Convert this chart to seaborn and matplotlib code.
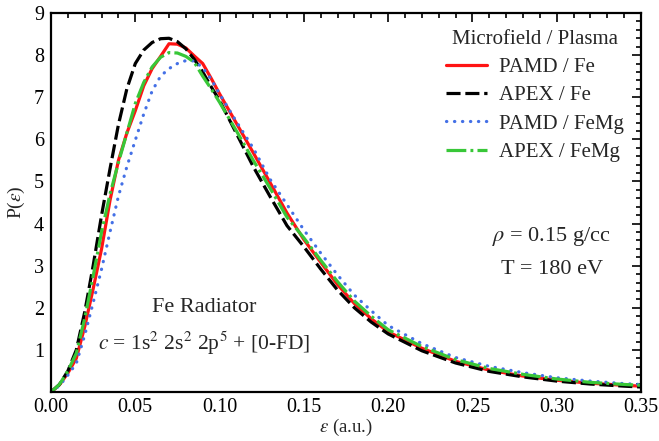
import numpy as np
import pandas as pd
import seaborn as sns
import matplotlib.pyplot as plt
from matplotlib.ticker import MultipleLocator, FormatStrFormatter

# field values (a.u.)
eps = [0.0, 0.005, 0.01, 0.015, 0.02, 0.025, 0.03, 0.035, 0.04, 0.045,
       0.05, 0.055, 0.06, 0.065, 0.07, 0.075, 0.08, 0.085, 0.09, 0.095,
       0.10, 0.11, 0.12, 0.13, 0.14, 0.15, 0.16, 0.17, 0.18, 0.19,
       0.20, 0.22, 0.24, 0.26, 0.28, 0.30, 0.32, 0.34, 0.35]

# P(eps)
pamd_fe = [0.0, 0.17, 0.45, 0.8, 1.55, 2.45, 3.4, 4.55, 5.5, 6.15,
           6.68, 7.27, 7.68, 7.97, 8.27, 8.26, 8.17, 7.98, 7.8, 7.45,
           7.08, 6.38, 5.68, 4.97, 4.25, 3.62, 3.08, 2.55, 2.1, 1.74,
           1.43, 1.04, 0.73, 0.52, 0.38, 0.28, 0.21, 0.16, 0.14]
apex_fe = [0.0, 0.18, 0.5, 1.0, 1.9, 3.0, 4.2, 5.3, 6.35, 7.2,
           7.8, 8.12, 8.3, 8.39, 8.4, 8.32, 8.15, 7.9, 7.6, 7.25,
           6.92, 6.14, 5.35, 4.64, 3.95, 3.45, 2.92, 2.42, 2.0, 1.66,
           1.38, 0.98, 0.69, 0.49, 0.36, 0.26, 0.19, 0.14, 0.12]
pamd_femg = [0.0, 0.15, 0.4, 0.68, 1.35, 2.12, 2.92, 3.8, 4.65, 5.35,
             5.98, 6.6, 7.15, 7.5, 7.68, 7.8, 7.87, 7.86, 7.7, 7.43,
             7.08, 6.42, 5.79, 5.05, 4.45, 3.85, 3.3, 2.78, 2.3, 1.93,
             1.58, 1.15, 0.82, 0.61, 0.46, 0.34, 0.26, 0.2, 0.18]
apex_femg = [0.0, 0.18, 0.5, 0.92, 1.75, 2.75, 3.8, 4.7, 5.45, 6.15,
             6.85, 7.35, 7.72, 7.95, 8.06, 8.05, 7.97, 7.83, 7.5, 7.2,
             6.88, 6.2, 5.5, 4.84, 4.15, 3.66, 3.13, 2.62, 2.16, 1.8,
             1.48, 1.08, 0.77, 0.56, 0.42, 0.31, 0.23, 0.18, 0.16]

labels = ["PAMD / Fe", "APEX / Fe", "PAMD / FeMg", "APEX / FeMg"]

sns.set_theme(style="white")
plt.rcParams["font.family"] = ["Liberation Serif", "DejaVu Serif"]
plt.rcParams["mathtext.fontset"] = "stix"

fig = plt.figure(figsize=(6.59, 4.41), dpi=100)
ax = fig.add_axes([0.0774, 0.111, 0.8953, 0.8595])

df = pd.DataFrame({"eps": eps, labels[0]: pamd_fe, labels[1]: apex_fe,
                   labels[2]: pamd_femg, labels[3]: apex_femg})

styles = {
    labels[0]: dict(color="#ff1414", ls="-"),
    labels[1]: dict(color="black", ls=(0, (4.4, 1.5))),
    labels[2]: dict(color="#4470e6", ls=(0, (0.1, 2.4)), dash_capstyle="round"),
    labels[3]: dict(color="#38c738", ls=(0, (6.2, 1.3, 0.9, 1.3))),
}
for name in labels:
    sns.lineplot(data=df, x="eps", y=name, ax=ax, lw=2.3, label=name, **styles[name])

ax.set_xlim(0, 0.35)
ax.set_ylim(0, 9)
ax.xaxis.set_major_locator(MultipleLocator(0.05))
ax.xaxis.set_minor_locator(MultipleLocator(0.01))
ax.xaxis.set_major_formatter(FormatStrFormatter("%.2f"))
ax.yaxis.set_minor_locator(MultipleLocator(0.2))
ax.set_yticks(range(1, 10))
ax.tick_params(which="both", direction="in", top=True, right=True,
               labelsize=14.5, width=1.2, colors="black", pad=5)
ax.tick_params(axis="x", pad=4)
ax.tick_params(which="major", length=6.5)
ax.tick_params(which="minor", length=3.5)
for sp in ax.spines.values():
    sp.set_linewidth(1.6)
    sp.set_color("black")

ax.set_xlabel(r"$\epsilon$ (a.u.)", fontsize=13.5, labelpad=0)
ax.set_ylabel(r"P($\epsilon$)", fontsize=14, labelpad=5)

ax.text(0.091, 2.0, "Fe Radiator", ha="center", va="center", fontsize=16)
ax.text(0.091, 1.16, r"$c$ = 1s$^2$ 2s$^2$ 2p$^5$ + [0-FD]",
        ha="center", va="center", fontsize=15.5)
ax.text(0.297, 3.69, r"$\rho$ = 0.15 g/cc", ha="center", va="center", fontsize=16)
ax.text(0.297, 2.9, "T = 180 eV", ha="center", va="center", fontsize=16)

leg = ax.legend(title="Microfield / Plasma", frameon=False, loc="upper right",
                fontsize=15, title_fontsize=15, handlelength=1.95,
                handletextpad=0.6, borderaxespad=0.4, labelspacing=0.42)

plt.savefig("out.png", dpi=100)
